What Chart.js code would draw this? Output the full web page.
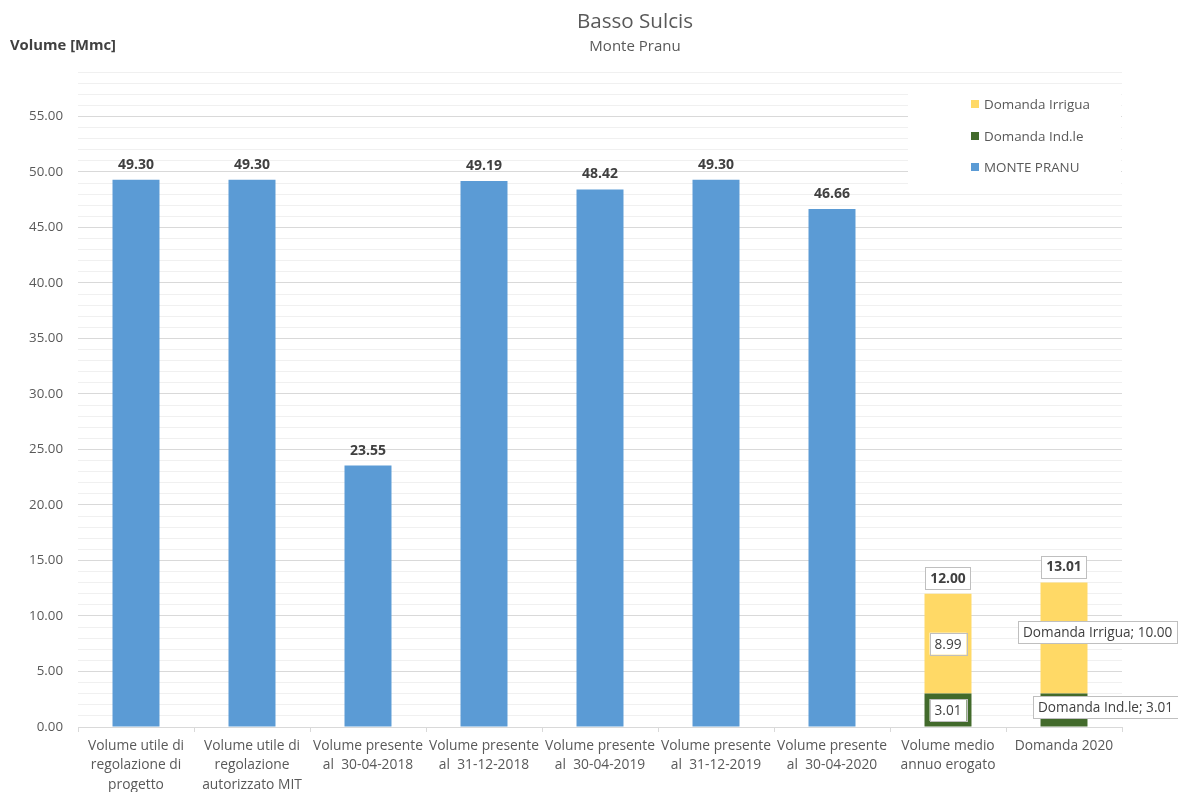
<!DOCTYPE html>
<html>
<head>
<meta charset="utf-8">
<script src="https://cdn.jsdelivr.net/npm/chart.js@4/dist/chart.umd.min.js"></script>
<style>
html,body{margin:0;padding:0;background:#fff;}
#wrap{width:1178px;height:792px;position:relative;}
</style>
</head>
<body>
<div id="wrap"><canvas id="c" width="1178" height="792"></canvas></div>
<script>
const categories = [
  ['Volume utile di', 'regolazione di', 'progetto'],
  ['Volume utile di', 'regolazione', 'autorizzato MIT'],
  ['Volume presente', 'al  30-04-2018'],
  ['Volume presente', 'al  31-12-2018'],
  ['Volume presente', 'al  30-04-2019'],
  ['Volume presente', 'al  31-12-2019'],
  ['Volume presente', 'al  30-04-2020'],
  ['Volume medio', 'annuo erogato'],
  ['Domanda 2020']
];
const montePranu = [49.30, 49.30, 23.55, 49.19, 48.42, 49.30, 46.66, null, null];
const domandaInd = [null, null, null, null, null, null, null, 3.01, 3.01];
const domandaIrr = [null, null, null, null, null, null, null, 8.99, 10.00];
const seriesNames = ['MONTE PRANU', 'Domanda Ind.le', 'Domanda Irrigua'];
const yMin = 0, yMax = 59, yStep = 1, yLabelStep = 5;
const titleText = 'Basso Sulcis';
const subtitleText = 'Monte Pranu';
const yTitleText = 'Volume [Mmc]';

const FONT = '"Open Sans", "Noto Sans", sans-serif';
const colors = ['#5B9BD5', '#426A2B', '#FFD966'];
const fmt = v => v.toFixed(2);

function boxedText(ctx, text, x, y, align, bold) {
  ctx.font = (bold ? 'bold 13.8px ' : '13.6px ') + FONT;
  const w = ctx.measureText(text).width;
  const padX = 5, h = 22;
  let left = align === 'left' ? x : x - (w + 2 * padX) / 2;
  ctx.fillStyle = '#ffffff';
  ctx.fillRect(left, y - h / 2, w + 2 * padX, h);
  ctx.strokeStyle = '#bfbfbf';
  ctx.lineWidth = 1;
  ctx.strokeRect(Math.round(left) + 0.5, Math.round(y - h / 2) + 0.5, Math.round(w + 2 * padX), h);
  ctx.fillStyle = '#404040';
  ctx.textAlign = 'left';
  ctx.textBaseline = 'middle';
  ctx.fillText(text, left + padX, y + 1);
}

const decorPlugin = {
  id: 'decor',
  afterDraw(chart) {
    const ctx = chart.ctx;
    const ca = chart.chartArea;
    ctx.save();
    // titles
    ctx.fillStyle = '#595959';
    ctx.textAlign = 'center';
    ctx.textBaseline = 'middle';
    ctx.font = '20.6px ' + FONT;
    ctx.fillText(titleText, 635, 22);
    ctx.font = '15px ' + FONT;
    ctx.fillText(subtitleText, 635, 47);
    ctx.textAlign = 'left';
    ctx.fillStyle = '#404040';
    ctx.font = 'bold 14.8px ' + FONT;
    ctx.fillText(yTitleText, 10, 46);

    // legend (reverse order like reference)
    ctx.fillStyle = '#ffffff';
    ctx.fillRect(908, 86, ca.right - 908 - 1, 98);
    const legendOrder = [2, 1, 0];
    const ly = [104, 136, 167];
    ctx.font = '13.4px ' + FONT;
    legendOrder.forEach((di, k) => {
      ctx.fillStyle = colors[di];
      ctx.fillRect(971, ly[k] - 4, 8, 8);
      ctx.fillStyle = '#595959';
      ctx.textBaseline = 'middle';
      ctx.fillText(seriesNames[di], 984, ly[k] + 1);
    });

    // data labels
    const mB = chart.getDatasetMeta(0), mG = chart.getDatasetMeta(1), mY = chart.getDatasetMeta(2);
    ctx.textBaseline = 'middle';
    montePranu.forEach((v, i) => {
      if (v == null) return;
      const el = mB.data[i];
      ctx.fillStyle = '#404040';
      ctx.font = 'bold 14px ' + FONT;
      ctx.textAlign = 'center';
      ctx.fillText(fmt(v), el.x, el.y - 15);
    });
    const lastIdx = categories.length - 1;
    domandaInd.forEach((v, i) => {
      if (v == null) return;
      const g = mG.data[i], y = mY.data[i];
      const gMid = (g.y + g.base) / 2;
      const yMid = (y.y + y.base) / 2;
      if (i === lastIdx) {
        boxedText(ctx, seriesNames[1] + '; ' + fmt(v), g.x - 31, gMid - 3, 'left', false);
        boxedText(ctx, seriesNames[2] + '; ' + fmt(domandaIrr[i]), y.x - 46, yMid - 6, 'left', false);
      } else {
        boxedText(ctx, fmt(v), g.x, gMid, 'center', false);
        boxedText(ctx, fmt(domandaIrr[i]), y.x, yMid, 'center', false);
      }
      const total = v + domandaIrr[i];
      boxedText(ctx, fmt(total), y.x, y.y - 16, 'center', true);
    });
    ctx.restore();
  }
};

new Chart(document.getElementById('c'), {
  type: 'bar',
  data: {
    labels: categories,
    datasets: [
      { label: seriesNames[0], data: montePranu, backgroundColor: colors[0] },
      { label: seriesNames[1], data: domandaInd, backgroundColor: colors[1] },
      { label: seriesNames[2], data: domandaIrr, backgroundColor: colors[2] }
    ]
  },
  options: {
    responsive: false,
    animation: false,
    layout: { padding: { top: 72, right: 56, left: 0, bottom: 0 } },
    datasets: { bar: { categoryPercentage: 1, barPercentage: 0.405 } },
    plugins: { legend: { display: false }, title: { display: false }, tooltip: { enabled: false } },
    scales: {
      x: {
        stacked: true,
        afterFit(s) { s.height = 65; },
        grid: { offset: true, drawOnChartArea: false, color: '#d9d9d9', tickLength: 5 },
        border: { color: '#d9d9d9' },
        ticks: { color: '#595959', font: { family: FONT, size: 13.8, lineHeight: 1.41 }, padding: 4, maxRotation: 0, autoSkip: false }
      },
      y: {
        stacked: true,
        min: yMin, max: yMax,
        afterFit(s) { s.width = 78; },
        grid: {
          drawTicks: false,
          color: ctx => (ctx.tick && ctx.tick.value % yLabelStep === 0) ? '#d9d9d9' : '#f0f0f0'
        },
        border: { display: false },
        ticks: {
          stepSize: yStep, autoSkip: false, padding: 15, color: '#595959',
          font: { family: FONT, size: 13.3 },
          callback: v => (v % yLabelStep === 0) ? fmt(v) : ''
        }
      }
    }
  },
  plugins: [decorPlugin]
});
</script>
</body>
</html>
